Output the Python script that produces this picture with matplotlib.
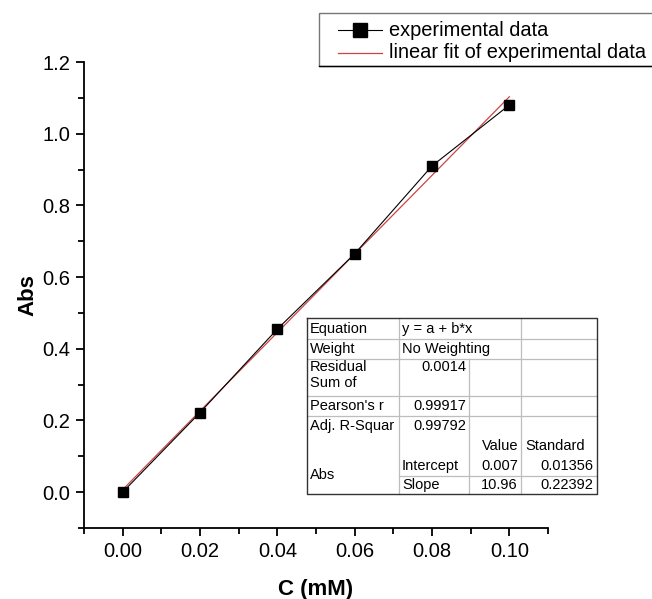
import matplotlib
matplotlib.use("Agg")
import matplotlib.pyplot as plt
from matplotlib.ticker import MultipleLocator
from matplotlib.lines import Line2D
from matplotlib.patches import Rectangle

plt.rcParams['font.family'] = ['Liberation Sans', 'DejaVu Sans']

# ---- data ----
conc = [0.00, 0.02, 0.04, 0.06, 0.08, 0.10]
absorb = [0.0, 0.222, 0.455, 0.665, 0.91, 1.08]
intercept = 0.007
slope = 10.96
fit_x = [0.00, 0.10]

series_labels = ["experimental data", "linear fit of experimental data"]

# fit report table text
stat_names = ["Equation", "Weight", "Residual\nSum of", "Pearson's r", "Adj. R-Squar"]
stat_values = ["y = a + b*x", "No Weighting", "0.0014", "0.99917", "0.99792"]
param_header = ["Value", "Standard"]
param_names = ["Intercept", "Slope"]
param_values = ["0.007", "10.96"]
param_errors = ["0.01356", "0.22392"]

RED = '#cc4444'
W, H = 652, 599
fig = plt.figure(figsize=(W / 100, H / 100), dpi=100)
ax = fig.add_axes([84 / W, 1 - 528 / H, (548 - 84) / W, (528 - 62) / H])

fit_y = [intercept + slope * x for x in fit_x]
ax.plot(conc, absorb, color='black', lw=0.8, marker='s', ms=6.5, zorder=3)
ax.plot(fit_x, fit_y, color=RED, lw=0.9, zorder=2)

ax.set_xlim(-0.01, 0.11)
ax.set_ylim(-0.1, 1.2)
ax.xaxis.set_major_locator(MultipleLocator(0.02))
ax.xaxis.set_minor_locator(MultipleLocator(0.01))
ax.yaxis.set_major_locator(MultipleLocator(0.2))
ax.yaxis.set_minor_locator(MultipleLocator(0.1))
ax.xaxis.set_major_formatter(plt.FormatStrFormatter('%.2f'))
ax.yaxis.set_major_formatter(plt.FormatStrFormatter('%.1f'))
for s in ['top', 'right']:
    ax.spines[s].set_visible(False)
for s in ['left', 'bottom']:
    ax.spines[s].set_linewidth(1.3)
ax.tick_params(which='major', direction='out', length=6, width=1.3, labelsize=14.5, pad=4)
ax.tick_params(which='minor', direction='out', length=4, width=1.3)
ax.set_xlabel('C (mM)', fontsize=16, fontweight='bold', labelpad=13)
ax.set_ylabel('Abs', fontsize=16, fontweight='bold', labelpad=3)

# ---- legend box (drawn in pixel positions, runs off the right edge) ----
def fx(px):
    return px / W

def fy(py):
    return 1 - py / H

fig.add_artist(Rectangle((fx(319), fy(66)), fx(400), fy(13) - fy(66),
                         transform=fig.transFigure, facecolor='white',
                         edgecolor='#777777', lw=1.0))
fig.add_artist(Line2D([fx(319), fx(652)], [fy(66), fy(66)], color='black', lw=1.0))
row_y = [30, 53]
fig.add_artist(Line2D([fx(338), fx(382)], [fy(row_y[0])] * 2, color='black', lw=0.8))
fig.add_artist(Line2D([fx(360)], [fy(row_y[0])], color='black', marker='s', ms=9.5, lw=0))
fig.add_artist(Line2D([fx(338), fx(382)], [fy(row_y[1])] * 2, color=RED, lw=0.9))
for y, lab in zip(row_y, series_labels):
    fig.text(fx(389), fy(y), lab, fontsize=14.4, ha='left', va='center')

# ---- fit report table (drawn in pixel coordinates) ----
cols = [307, 399, 469, 521, 597]
rows = [318, 339, 359, 396, 416, 436, 456, 476, 494]
tab = fig.add_axes([cols[0] / W, 1 - rows[-1] / H, (cols[-1] - cols[0]) / W,
                    (rows[-1] - rows[0]) / H])
tab.set_xlim(cols[0], cols[-1])
tab.set_ylim(rows[-1], rows[0])
tab.axis('off')
tab.patch.set_visible(False)

grid = '#bdbdbd'
kw = dict(color=grid, lw=0.9, clip_on=False)
for r in rows[1:5]:
    tab.plot([cols[0], cols[-1]], [r, r], **kw)
tab.plot([cols[1], cols[-1]], [rows[7], rows[7]], **kw)
tab.plot([cols[1], cols[1]], [rows[0], rows[-1]], **kw)
tab.plot([cols[2], cols[2]], [rows[2], rows[-1]], **kw)
tab.plot([cols[3], cols[3]], [rows[0], rows[-1]], **kw)
tab.plot([cols[0], cols[-1], cols[-1], cols[0], cols[0]],
         [rows[0], rows[0], rows[-1], rows[-1], rows[0]],
         color='#333333', lw=1.0, clip_on=False)

fs = 10.5
for i, name in enumerate(stat_names):
    y = (rows[i] + rows[i + 1]) / 2
    if i == 2:
        tab.text(cols[0] + 3, rows[i] + 1, name, fontsize=fs, ha='left', va='top', linespacing=1.2)
        tab.text(cols[2] - 3, rows[i] + 1, stat_values[i], fontsize=fs, ha='right', va='top')
    elif i < 2:
        tab.text(cols[0] + 3, y, name, fontsize=fs, ha='left', va='center')
        tab.text(cols[1] + 3, y, stat_values[i], fontsize=fs, ha='left', va='center')
    else:
        tab.text(cols[0] + 3, y, name, fontsize=fs, ha='left', va='center')
        tab.text(cols[2] - 3, y, stat_values[i], fontsize=fs, ha='right', va='center')

yh = (rows[5] + rows[6]) / 2
tab.text(cols[3] - 3, yh, param_header[0], fontsize=fs, ha='right', va='center')
tab.text(cols[3] + 4, yh, param_header[1], fontsize=fs, ha='left', va='center')
tab.text(cols[0] + 3, (rows[6] + rows[8]) / 2, 'Abs', fontsize=fs, ha='left', va='center')
for j in range(2):
    y = (rows[6 + j] + rows[7 + j]) / 2
    tab.text(cols[1] + 3, y, param_names[j], fontsize=fs, ha='left', va='center')
    tab.text(cols[3] - 3, y, param_values[j], fontsize=fs, ha='right', va='center')
    tab.text(cols[4] - 4, y, param_errors[j], fontsize=fs, ha='right', va='center')

fig.savefig('out.png', dpi=100)
